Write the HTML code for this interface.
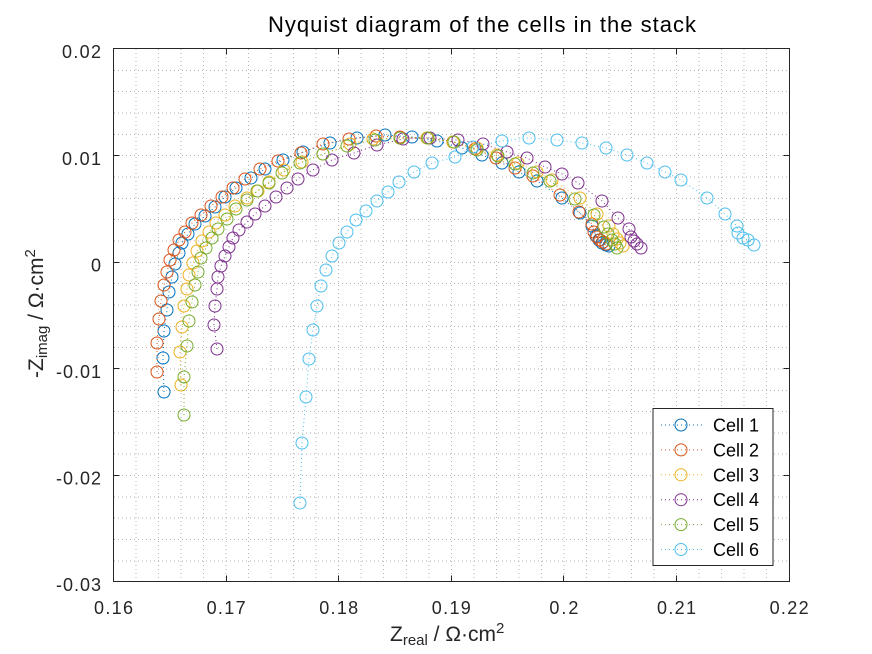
<!DOCTYPE html>
<html><head><meta charset="utf-8">
<style>
html,body{margin:0;padding:0;background:#fff;}
svg{display:block;}
text{font-family:"Liberation Sans",Arial,sans-serif;}
</style></head><body>
<svg width="872" height="654" viewBox="0 0 872 654" xmlns="http://www.w3.org/2000/svg">
<defs>
<marker id="m1" markerUnits="userSpaceOnUse" markerWidth="16" markerHeight="16" refX="8" refY="8" overflow="visible"><circle cx="8" cy="8" r="6" fill="none" stroke="#0072BD" stroke-width="1"/></marker>
<marker id="m2" markerUnits="userSpaceOnUse" markerWidth="16" markerHeight="16" refX="8" refY="8" overflow="visible"><circle cx="8" cy="8" r="6" fill="none" stroke="#D95319" stroke-width="1"/></marker>
<marker id="m3" markerUnits="userSpaceOnUse" markerWidth="16" markerHeight="16" refX="8" refY="8" overflow="visible"><circle cx="8" cy="8" r="6" fill="none" stroke="#EDB120" stroke-width="1"/></marker>
<marker id="m4" markerUnits="userSpaceOnUse" markerWidth="16" markerHeight="16" refX="8" refY="8" overflow="visible"><circle cx="8" cy="8" r="6" fill="none" stroke="#7E2F8E" stroke-width="1"/></marker>
<marker id="m5" markerUnits="userSpaceOnUse" markerWidth="16" markerHeight="16" refX="8" refY="8" overflow="visible"><circle cx="8" cy="8" r="6" fill="none" stroke="#77AC30" stroke-width="1"/></marker>
<marker id="m6" markerUnits="userSpaceOnUse" markerWidth="16" markerHeight="16" refX="8" refY="8" overflow="visible"><circle cx="8" cy="8" r="6" fill="none" stroke="#4DBEEE" stroke-width="1"/></marker>
</defs>
<rect width="872" height="654" fill="#fff"/>

<!-- grid -->
<path fill="none" stroke="#b4b4b4" stroke-width="1" stroke-dasharray="1 3" d="
M136 49V581.5M158.5 49V581.5M181 49V581.5M203.5 49V581.5M226 49V581.5M248.5 49V581.5M271 49V581.5M293.5 49V581.5M316 49V581.5M338.5 49V581.5
M361 49V581.5M383.5 49V581.5M406.5 49V581.5M429 49V581.5M451.5 49V581.5M474 49V581.5M496.5 49V581.5M519 49V581.5M541.5 49V581.5M564 49V581.5
M586.5 49V581.5M609 49V581.5M631.5 49V581.5M654 49V581.5M676.5 49V581.5M699 49V581.5M721.5 49V581.5M744 49V581.5M766.5 49V581.5
M114 70.5H789M114 91.5H789M114 113H789M114 134.5H789M114 155.5H789M114 177H789M114 198.5H789M114 219.5H789M114 241H789M114 262.5H789
M114 283.5H789M114 305H789M114 326.5H789M114 347.5H789M114 369H789M114 390.5H789M114 411.5H789M114 433H789M114 454H789M114 475.5H789
M114 497H789M114 518H789M114 539.5H789M114 561H789"/>

<!-- axes box -->
<rect x="113.5" y="48.5" width="676" height="533" fill="none" stroke="#262626" stroke-width="1"/>
<!-- ticks -->
<path fill="none" stroke="#262626" stroke-width="1" d="
M226.5 581.5V575.5M338.5 581.5V575.5M451.5 581.5V575.5M563.5 581.5V575.5M676.5 581.5V575.5
M226.5 48.5V54.5M338.5 48.5V54.5M451.5 48.5V54.5M563.5 48.5V54.5M676.5 48.5V54.5
M113.5 155.5H119.5M113.5 262.5H119.5M113.5 368.5H119.5M113.5 475.5H119.5
M789.5 155.5H783.5M789.5 262.5H783.5M789.5 368.5H783.5M789.5 475.5H783.5"/>

<!-- tick labels -->
<g fill="#262626" font-size="18" text-anchor="middle">
<text x="113.5" y="614" textLength="39" lengthAdjust="spacing">0.16</text>
<text x="226.1" y="614" textLength="39" lengthAdjust="spacing">0.17</text>
<text x="338.7" y="614" textLength="39" lengthAdjust="spacing">0.18</text>
<text x="451.3" y="614" textLength="39" lengthAdjust="spacing">0.19</text>
<text x="563.9" y="614" textLength="29" lengthAdjust="spacing">0.2</text>
<text x="676.5" y="614" textLength="39" lengthAdjust="spacing">0.21</text>
<text x="789.1" y="614" textLength="39" lengthAdjust="spacing">0.22</text>
</g>
<g fill="#262626" font-size="18" text-anchor="end">
<text x="101" y="58" textLength="39" lengthAdjust="spacing">0.02</text>
<text x="101" y="165" textLength="39" lengthAdjust="spacing">0.01</text>
<text x="101" y="271.5">0</text>
<text x="101" y="378" textLength="45" lengthAdjust="spacing">-0.01</text>
<text x="101" y="484.5" textLength="45" lengthAdjust="spacing">-0.02</text>
<text x="101" y="591" textLength="45" lengthAdjust="spacing">-0.03</text>
</g>

<!-- title -->
<text x="268" y="32" font-size="22" fill="#000" textLength="428" lengthAdjust="spacing">Nyquist diagram of the cells in the stack</text>

<!-- x label -->
<text x="390" y="641" font-size="21" fill="#262626">Z<tspan font-size="15" dy="4">real</tspan><tspan dy="-4"> / Ω·cm</tspan><tspan font-size="15" dy="-8">2</tspan></text>

<!-- y label -->
<text transform="translate(43,378) rotate(-90)" x="0" y="0" font-size="21" fill="#262626">-Z<tspan font-size="15" dy="4">imag</tspan><tspan dy="-4"> / Ω·cm</tspan><tspan font-size="15" dy="-8">2</tspan></text>

<!-- series -->
<g fill="none" stroke-width="1" stroke-dasharray="1 3">
<polyline stroke="#0072BD" marker-start="url(#m1)" marker-mid="url(#m1)" marker-end="url(#m1)" points="164,392 163,358 164,331 167,310 169,292 172,277 175,264 179,253 182,243 188,234 195,224 205,216 215,207 225,197 236,188 251,178 265,169 283,160 303,152 330,143 357,138 385,135 412,137 437,141 462,148 482,155 502,163 519,172 537,181 562,198 580,213 592,226 596,236 599,240 602,243 606,245 609,246"/>
<polyline stroke="#D95319" marker-start="url(#m2)" marker-mid="url(#m2)" marker-end="url(#m2)" points="157,372 157,343 159,319 161,301 164,285 167,272 170,260 174,250 179,240 185,232 192,223 201,215 211,206 222,197 233,188 245,179 260,169 278,161 301,153 323,144 349,139 376,136 400,137 428,138 453,142 475,149 496,158 515,168 533,176 560,195 579,212 592,224 594,232 597,237 600,240 603,242 606,244"/>
<polyline stroke="#EDB120" marker-start="url(#m3)" marker-mid="url(#m3)" marker-end="url(#m3)" points="181,385 180,352 182,327 184,306 187,289 189,275 193,263 197,251 202,241 209,232 216,223 225,215 235,206 247,198 258,191 269,182 284,170 302,162 323,154 350,144 373,139 400,138 427,138 453,142 477,148 497,155 518,163 537,172 552,180 580,198 597,214 609,226 613,234 617,239 620,243 623,246"/>
<polyline stroke="#7E2F8E" marker-start="url(#m4)" marker-mid="url(#m4)" marker-end="url(#m4)" points="217,349 214,325 215,306 217,289 218,277 221,266 225,256 229,247 233,238 239,230 247,222 255,214 265,206 276,197 287,188 298,179 313,170 332,160 354,153 377,145 403,139 430,138 458,140 483,144 507,152 527,158 545,167 562,174 578,183 602,201 618,218 629,229 631,237 634,241 637,244 641,248"/>
<polyline stroke="#77AC30" marker-start="url(#m5)" marker-mid="url(#m5)" marker-end="url(#m5)" points="184,415 184,377 187,346 189,321 192,302 195,285 198,272 201,258 206,248 212,238 218,229 227,219 236,209 247,200 257,191 269,183 282,173 300,163 323,154 347,146 375,140 400,138 428,138 454,142 477,150 498,156 515,164 533,173 550,181 575,199 594,215 604,227 608,234 612,240 615,244 617,248"/>
<polyline stroke="#4DBEEE" marker-start="url(#m6)" marker-mid="url(#m6)" marker-end="url(#m6)" points="300,503 302,443 306,397 309,359 313,330 317,306 321,286 326,270 332,256 339,243 347,232 356,220 366,211 377,201 388,192 399,182 414,172 432,163 455,157 473,147 502,141 529,138 557,140 582,143 606,148 627,155 647,163 665,172 681,180 707,198 725,214 737,226 738,233 743,238 748,240 754,245"/>
</g>

<!-- legend -->
<rect x="653" y="408.5" width="120" height="157" fill="#fff" stroke="#262626" stroke-width="1"/>
<g fill="none" stroke-width="1" stroke-dasharray="1 3">
<polyline stroke="#0072BD" marker-mid="url(#m1)" points="661,425 681,425 702,425"/>
<polyline stroke="#D95319" marker-mid="url(#m2)" points="661,449.9 681,449.9 702,449.9"/>
<polyline stroke="#EDB120" marker-mid="url(#m3)" points="661,474.8 681,474.8 702,474.8"/>
<polyline stroke="#7E2F8E" marker-mid="url(#m4)" points="661,499.7 681,499.7 702,499.7"/>
<polyline stroke="#77AC30" marker-mid="url(#m5)" points="661,524.6 681,524.6 702,524.6"/>
<polyline stroke="#4DBEEE" marker-mid="url(#m6)" points="661,549.5 681,549.5 702,549.5"/>
</g>
<g fill="#000" font-size="18">
<text x="713" y="431.5">Cell 1</text>
<text x="713" y="456.4">Cell 2</text>
<text x="713" y="481.3">Cell 3</text>
<text x="713" y="506.2">Cell 4</text>
<text x="713" y="531.1">Cell 5</text>
<text x="713" y="556">Cell 6</text>
</g>
</svg>
</body></html>
